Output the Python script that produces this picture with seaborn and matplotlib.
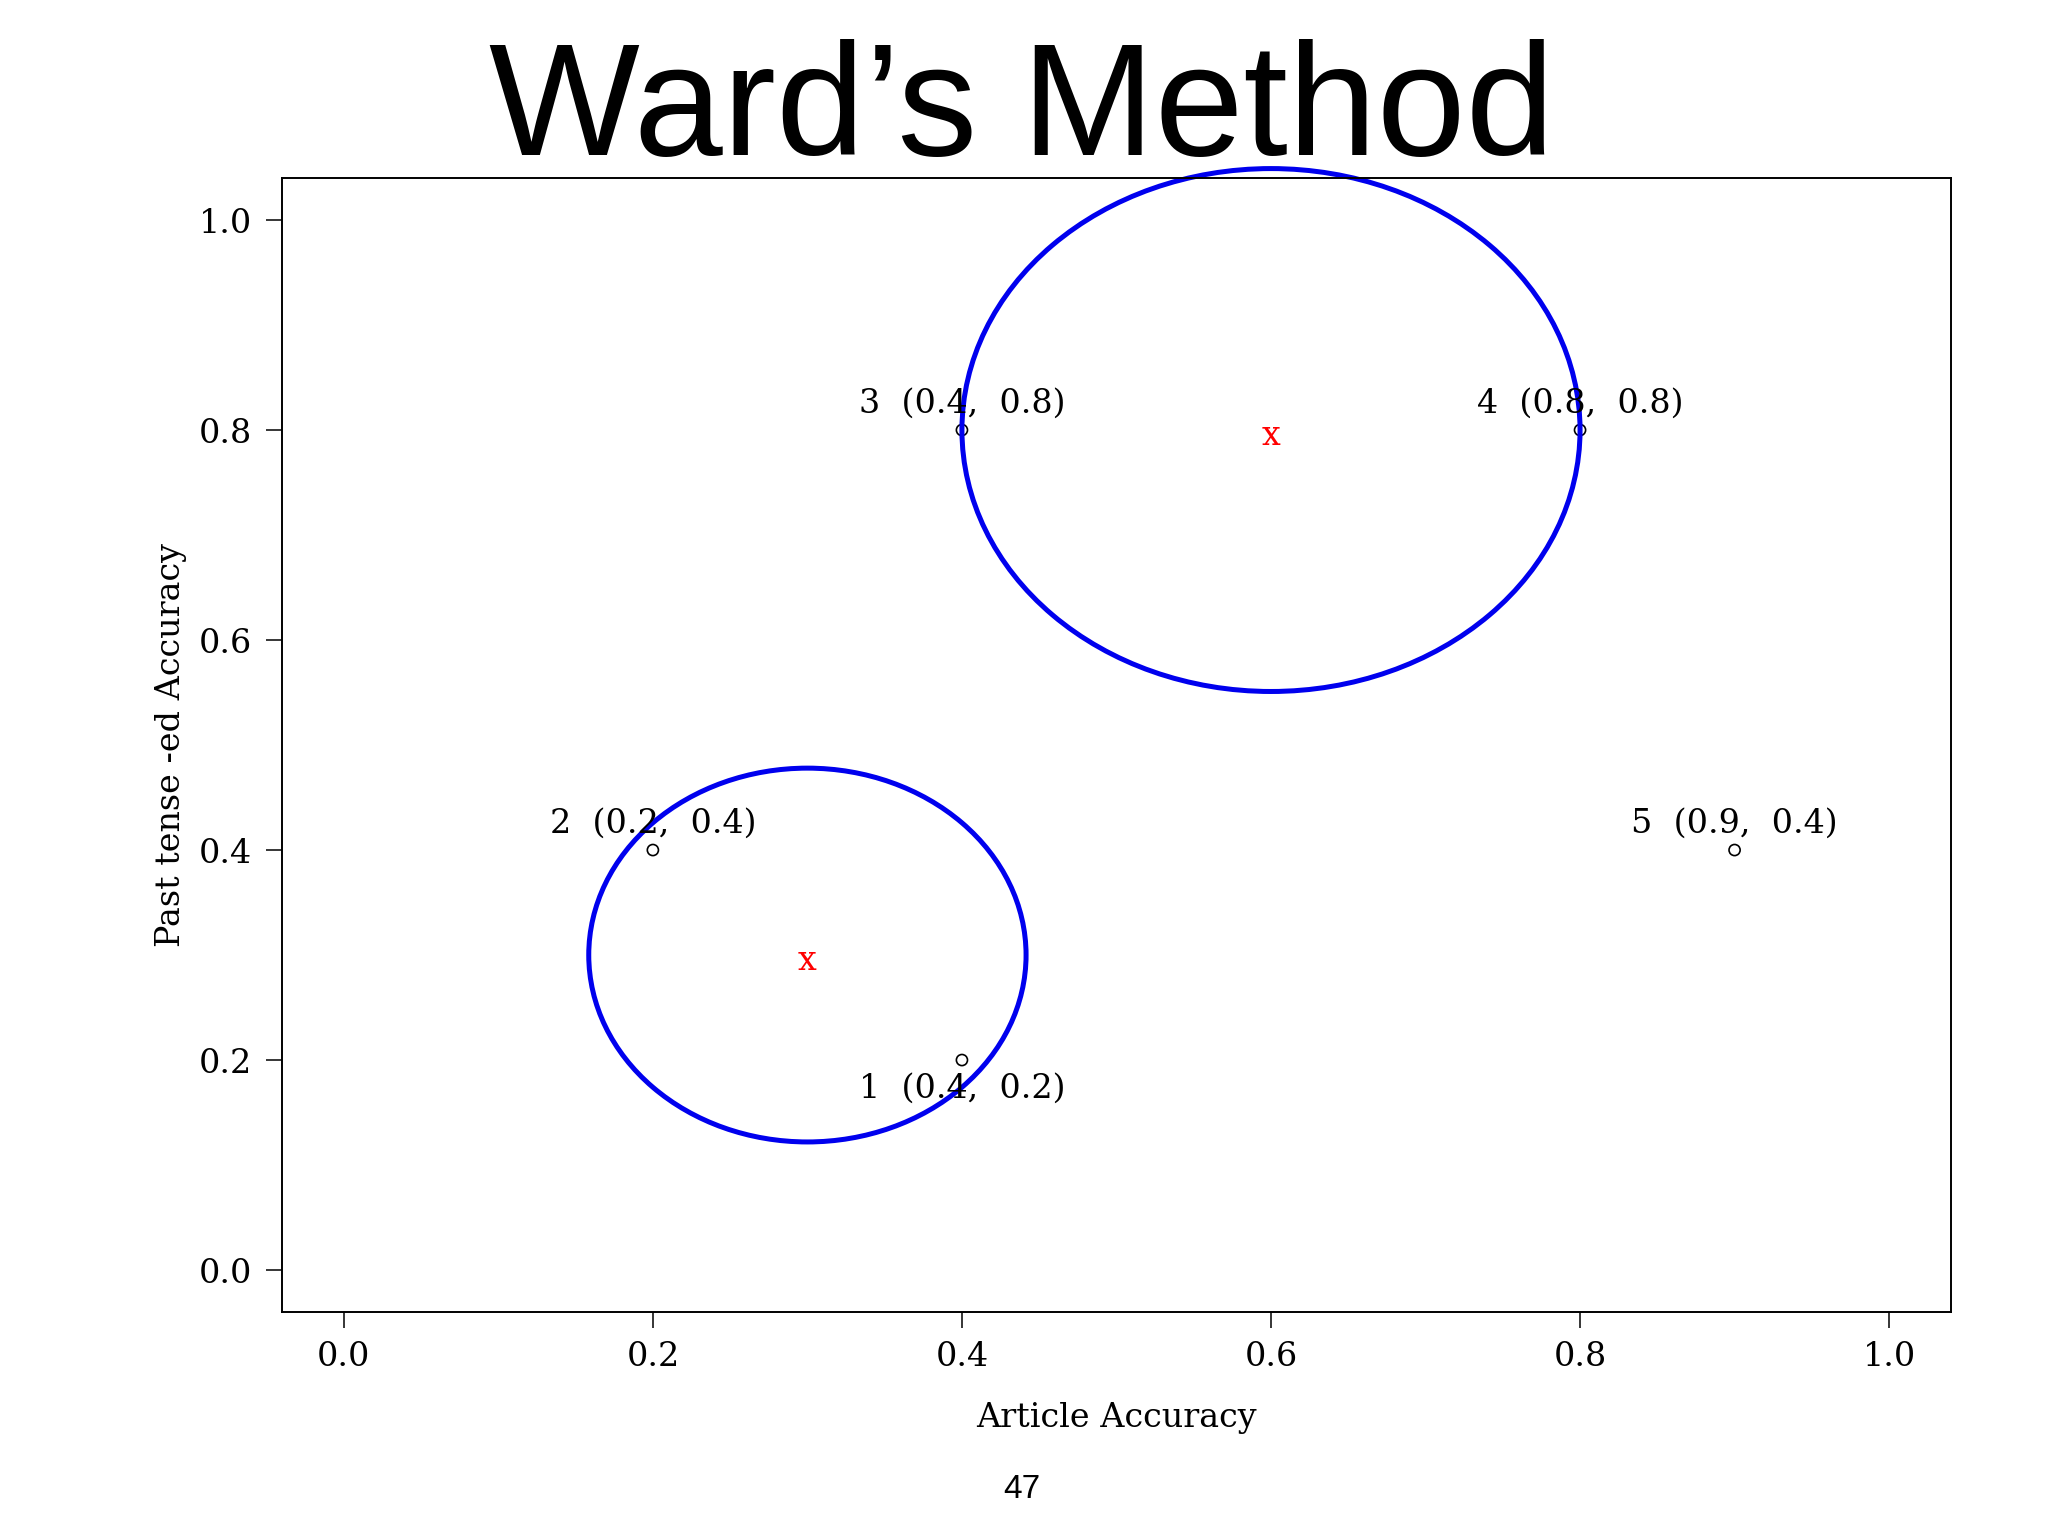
import matplotlib
matplotlib.use("Agg")
import matplotlib.pyplot as plt
from matplotlib.patches import Ellipse
import seaborn as sns
import pandas as pd

# Datos de los puntos
pt_ids = [1, 2, 3, 4, 5]
article = [0.4, 0.2, 0.4, 0.8, 0.9]
past = [0.2, 0.4, 0.8, 0.8, 0.4]
label_side = ["below", "above", "above", "above", "above"]

# Centroides de los clusters y tamaño de las elipses
cent_x = [0.3, 0.6]
cent_y = [0.3, 0.8]
ell_w = [0.283, 0.40]
ell_h = [0.356, 0.498]

ticks = [0.0, 0.2, 0.4, 0.6, 0.8, 1.0]

df = pd.DataFrame({"id": pt_ids, "article": article, "past": past, "side": label_side})

sns.set_style("ticks")
plt.rcParams["font.family"] = ["DejaVu Serif"]
for k in ["text.color", "axes.labelcolor", "xtick.color", "ytick.color", "axes.edgecolor"]:
    plt.rcParams[k] = "black"

fig = plt.figure(figsize=(20.48, 15.36), dpi=100)
ax = fig.add_axes([0.1377, 0.1458, 0.8149, 0.7383])

sns.scatterplot(data=df, x="article", y="past", ax=ax, s=64,
                facecolor="none", edgecolor="black", linewidth=1.2, legend=False)

for _, r in df.iterrows():
    txt = f"{r['id']}  ({r['article']:.1f},  {r['past']:.1f})"
    off = 19 if r["side"] == "above" else -21
    ax.annotate(txt, (r["article"], r["past"]), xytext=(0, off),
                textcoords="offset points", ha="center", va="center", fontsize=24)

for cx, cy, w, h in zip(cent_x, cent_y, ell_w, ell_h):
    ax.add_patch(Ellipse((cx, cy), w, h, fill=False, edgecolor="#0000ee",
                         linewidth=3.6, clip_on=False))
    ax.annotate("x", (cx, cy), xytext=(0, -4), textcoords="offset points",
                color="red", fontsize=24, ha="center", va="center")

ax.set_xlim(-0.04, 1.04)
ax.set_ylim(-0.04, 1.04)
ax.set_xticks(ticks)
ax.set_yticks(ticks)
ax.set_xticklabels([f"{t:.1f}" for t in ticks])
ax.set_yticklabels([f"{t:.1f}" for t in ticks])
ax.tick_params(length=11.5, width=1.1, labelsize=24, direction="out")
ax.tick_params(axis="x", pad=9)
ax.tick_params(axis="y", pad=10)
for sp in ax.spines.values():
    sp.set_visible(True)
    sp.set_linewidth(1.4)
    sp.set_color("black")

ax.set_xlabel("Article Accuracy", fontsize=24)
ax.set_ylabel("Past tense -ed Accuracy", fontsize=24)
ax.xaxis.set_label_coords(0.5, -0.0935)
ax.xaxis.label.set_va("center")
ax.yaxis.set_label_coords(-0.0665, 0.5)
ax.yaxis.label.set_va("center")

fig.text(0.499, 0.926, "Ward\u2019s Method", fontsize=115, ha="center", va="center",
         family=["Liberation Sans", "DejaVu Sans"])
fig.text(0.499, 0.030, "47", fontsize=24, ha="center", va="center",
         family=["Liberation Sans", "DejaVu Sans"])

fig.savefig("out.png", dpi=100, facecolor="white")
